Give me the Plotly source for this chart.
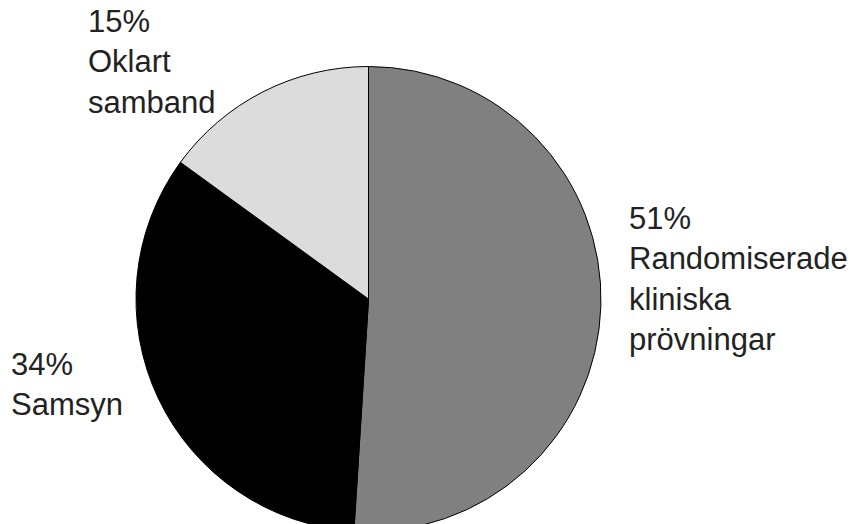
import plotly.graph_objects as go

categories = ["Randomiserade kliniska prövningar", "Samsyn", "Oklart samband"]
values = [51, 34, 15]
colors = ["#808080", "#000000", "#dcdcdc"]
label_lines = [
    ["51%", "Randomiserade", "kliniska", "prövningar"],
    ["34%", "Samsyn"],
    ["15%", "Oklart", "samband"],
]

W, H = 857, 598

fig = go.Figure(go.Pie(
    labels=categories,
    values=values,
    marker=dict(colors=colors, line=dict(color="#000000", width=1)),
    sort=False,
    direction="clockwise",
    rotation=0,
    textinfo="none",
    hoverinfo="label+percent",
    showlegend=False,
    domain=dict(x=[136 / W, 601 / W], y=[0, 1]),
))

# label anchor positions in pixels (left x, vertical centre y)
label_pos = [(627, 279), (9, 384), (86, 62)]
for lines, (px, py) in zip(label_lines, label_pos):
    fig.add_annotation(
        text="<br>".join(lines),
        x=px / W, y=1 - py / H, xref="paper", yref="paper",
        xanchor="left", yanchor="middle", align="left",
        showarrow=False,
        font=dict(family="Liberation Sans, Arial, sans-serif", size=31, color="#222222"),
    )

fig.update_layout(
    width=W, height=H,
    margin=dict(l=0, r=0, t=0, b=0),
    paper_bgcolor="white",
    plot_bgcolor="white",
)

fig.write_html(
    "out.html",
    post_script="document.documentElement.style.overflow='hidden';document.body.style.overflow='hidden';document.body.style.margin='0';",
)
